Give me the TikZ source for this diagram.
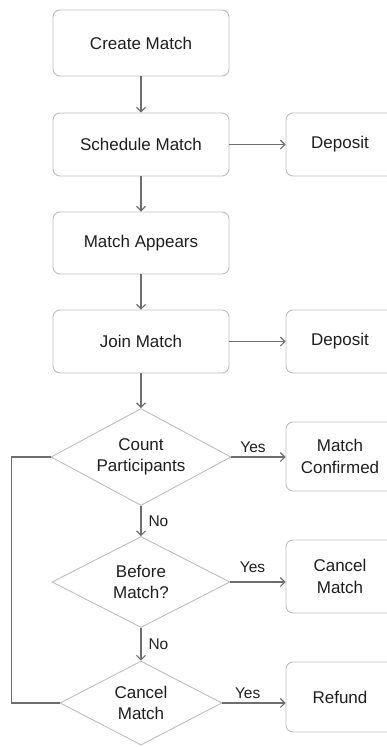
\documentclass[tikz,border=0pt]{standalone}
\usepackage{fontspec}
\setmainfont{Liberation Sans}
\usetikzlibrary{arrows.meta,shapes.geometric}

\definecolor{edgegray}{HTML}{BDBDBD}
\definecolor{linegray}{HTML}{6E6E6E}
\definecolor{txtgray}{HTML}{1E1E1E}

\begin{document}
\begin{tikzpicture}[x=1pt, y=-1pt, >={Straight Barb[length=4.5pt,width=9pt]},
  every node/.style={font=\fontsize{17}{21.5}\selectfont, text=txtgray},
  box/.style={draw=edgegray, line width=0.9pt, rounded corners=7pt, align=center, inner sep=0pt},
  dec/.style={draw=edgegray, line width=0.9pt, diamond, aspect=1.9, align=center, inner sep=0pt},
  flow/.style={->, draw=linegray, line width=1.1pt},
  lbl/.style={font=\fontsize{15.5}{18}\selectfont}]
  \useasboundingbox (0,0) rectangle (387,747);

  % main column
  \node[box, minimum width=176pt, minimum height=66pt] (create) at (141,43) {Create Match};
  \node[box, minimum width=176pt, minimum height=63pt] (schedule) at (141,144.5) {Schedule Match};
  \node[box, minimum width=176pt, minimum height=62pt] (appears) at (141,243) {Match Appears};
  \node[box, minimum width=176pt, minimum height=63pt] (join) at (141,341.5) {Join Match};

  % decisions
  \node[dec, minimum width=180pt, minimum height=97pt] (count) at (141,457) {Count\\Participants};
  \node[dec, minimum width=178pt, minimum height=91pt] (before) at (141,582) {Before\\Match?};
  \node[dec, minimum width=162pt, minimum height=84pt] (cancel) at (141,703) {Cancel\\Match};

  % right column
  \node[box, minimum width=108pt, minimum height=63pt] (depa) at (340,144.5) {Deposit};
  \node[box, minimum width=108pt, minimum height=63pt] (depb) at (340,341.5) {Deposit};
  \node[box, minimum width=108pt, minimum height=69pt] (confirmed) at (340,456.5) {Match\\Confirmed};
  \node[box, minimum width=108pt, minimum height=73pt] (stop) at (340,576.5) {Cancel\\Match};
  \node[box, minimum width=108pt, minimum height=70pt] (refund) at (340,697) {Refund};

  \draw[flow] (create) -- (schedule);
  \draw[flow] (schedule) -- (appears);
  \draw[flow] (appears) -- (join);
  \draw[flow] (join) -- (count);
  \draw[flow] (schedule) -- (depa);
  \draw[flow] (join) -- (depb);

  \draw[flow] (count.east) -- node[lbl, above, pos=0.4] {Yes} (confirmed.west |- count.east);
  \draw[flow] (before.east) -- node[lbl, above, pos=0.4, yshift=5pt] {Yes} (stop.west |- before.east);
  \draw[flow] (cancel.east) -- node[lbl, above, pos=0.4] {Yes} (refund.west |- cancel.east);
  \draw[flow] (count) -- node[lbl, right, inner sep=7pt] {No} (before);
  \draw[flow] (before) -- node[lbl, right, inner sep=7pt] {No} (cancel);

  \draw[draw=linegray, line width=1.1pt] (cancel.west) -- ++(-48,0) |- (count.west);
\end{tikzpicture}
\end{document}
